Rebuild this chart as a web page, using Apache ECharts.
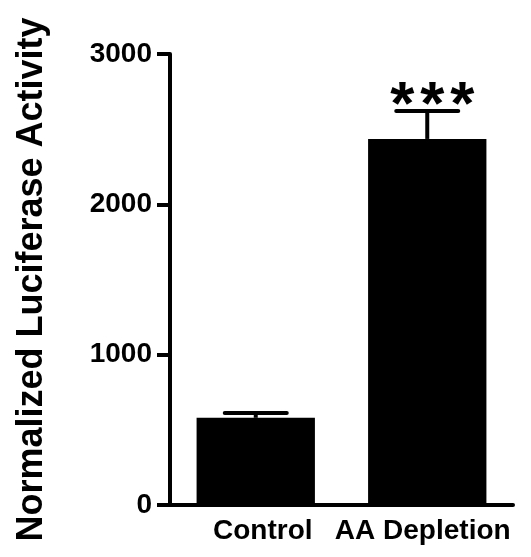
<!DOCTYPE html>
<html>
<head>
<meta charset="utf-8">
<script src="https://cdn.jsdelivr.net/npm/echarts@6/dist/echarts.min.js"></script>
<style>
html,body{margin:0;padding:0;background:#fff;}
#chart{width:531px;height:557px;}
</style>
</head>
<body>
<div id="chart"></div>
<script>
var categories = ['Control', 'AA Depletion'];
var means = [580, 2435];
var sems = [32, 186];
var significance = ['', '***'];
var yTicks = [0, 1000, 2000, 3000];

var FONT = "'Liberation Sans', Arial, Helvetica, sans-serif";
var chart = echarts.init(document.getElementById('chart'), null, {renderer: 'canvas'});

var errData = categories.map(function (c, i) { return [i, means[i], sems[i], significance[i]]; });

chart.setOption({
  animation: false,
  backgroundColor: '#fff',
  grid: {left: 170, right: 18, top: 54, bottom: 52, containLabel: false, outerBoundsMode: 'none'},
  xAxis: {
    type: 'category',
    data: categories,
    axisLine: {lineStyle: {color: '#000', width: 4, cap: 'round'}},
    axisTick: {show: false},
    axisLabel: {
      color: '#000', fontFamily: FONT, fontWeight: 'bold', fontSize: 28, margin: 12,
      interval: 0,
      formatter: function (v, i) { return i === 0 ? '{a|' + v + '}' : '{b|' + v + '}'; },
      rich: {
        a: {color: '#000', fontFamily: FONT, fontWeight: 'bold', fontSize: 28, padding: [0, 0, 0, 14]},
        b: {color: '#000', fontFamily: FONT, fontWeight: 'bold', fontSize: 28, padding: [0, 9, 0, 0]}
      }
    }
  },
  yAxis: {
    type: 'value',
    min: yTicks[0], max: yTicks[yTicks.length - 1], interval: 1000,
    name: 'Normalized Luciferase Activity',
    nameLocation: 'middle',
    nameRotate: 90,
    nameGap: 120,
    nameTextStyle: {color: '#000', fontFamily: FONT, fontWeight: 'bold', fontSize: 36},
    axisLine: {show: true, lineStyle: {color: '#000', width: 4}},
    axisTick: {show: true, inside: false, length: 13, lineStyle: {color: '#000', width: 4}},
    splitLine: {show: false},
    axisLabel: {color: '#000', fontFamily: FONT, fontWeight: 'bold', fontSize: 28, margin: 18,
      formatter: function (v) { return String(v); }}
  },
  series: [
    {
      type: 'bar',
      data: means,
      barWidth: '69%',
      itemStyle: {color: '#000'}
    },
    {
      type: 'custom',
      data: errData,
      z: 3,
      renderItem: function (params, api) {
        var i = api.value(0), m = api.value(1), e = api.value(2);
        var sig = errData[params.dataIndex][3];
        var base = api.coord([i, m]);
        var top = api.coord([i, m + e]);
        var half = 31;
        var children = [
          {type: 'line', shape: {x1: base[0], y1: base[1], x2: top[0], y2: top[1]},
           style: {stroke: '#000', lineWidth: 4}},
          {type: 'line', shape: {x1: top[0] - half, y1: top[1], x2: top[0] + half, y2: top[1]},
           style: {stroke: '#000', lineWidth: 4, lineCap: 'round'}}
        ];
        if (sig) {
          for (var k = 0; k < sig.length; k++) {
            children.push({type: 'text', x: top[0] + 5 + (k - (sig.length - 1) / 2) * 30, y: top[1] + 27,
              style: {text: sig.charAt(k), fill: '#000', font: 'bold 62px ' + FONT, textAlign: 'center', textVerticalAlign: 'bottom'}});
          }
        }
        return {type: 'group', children: children};
      }
    }
  ]
});
</script>
</body>
</html>
